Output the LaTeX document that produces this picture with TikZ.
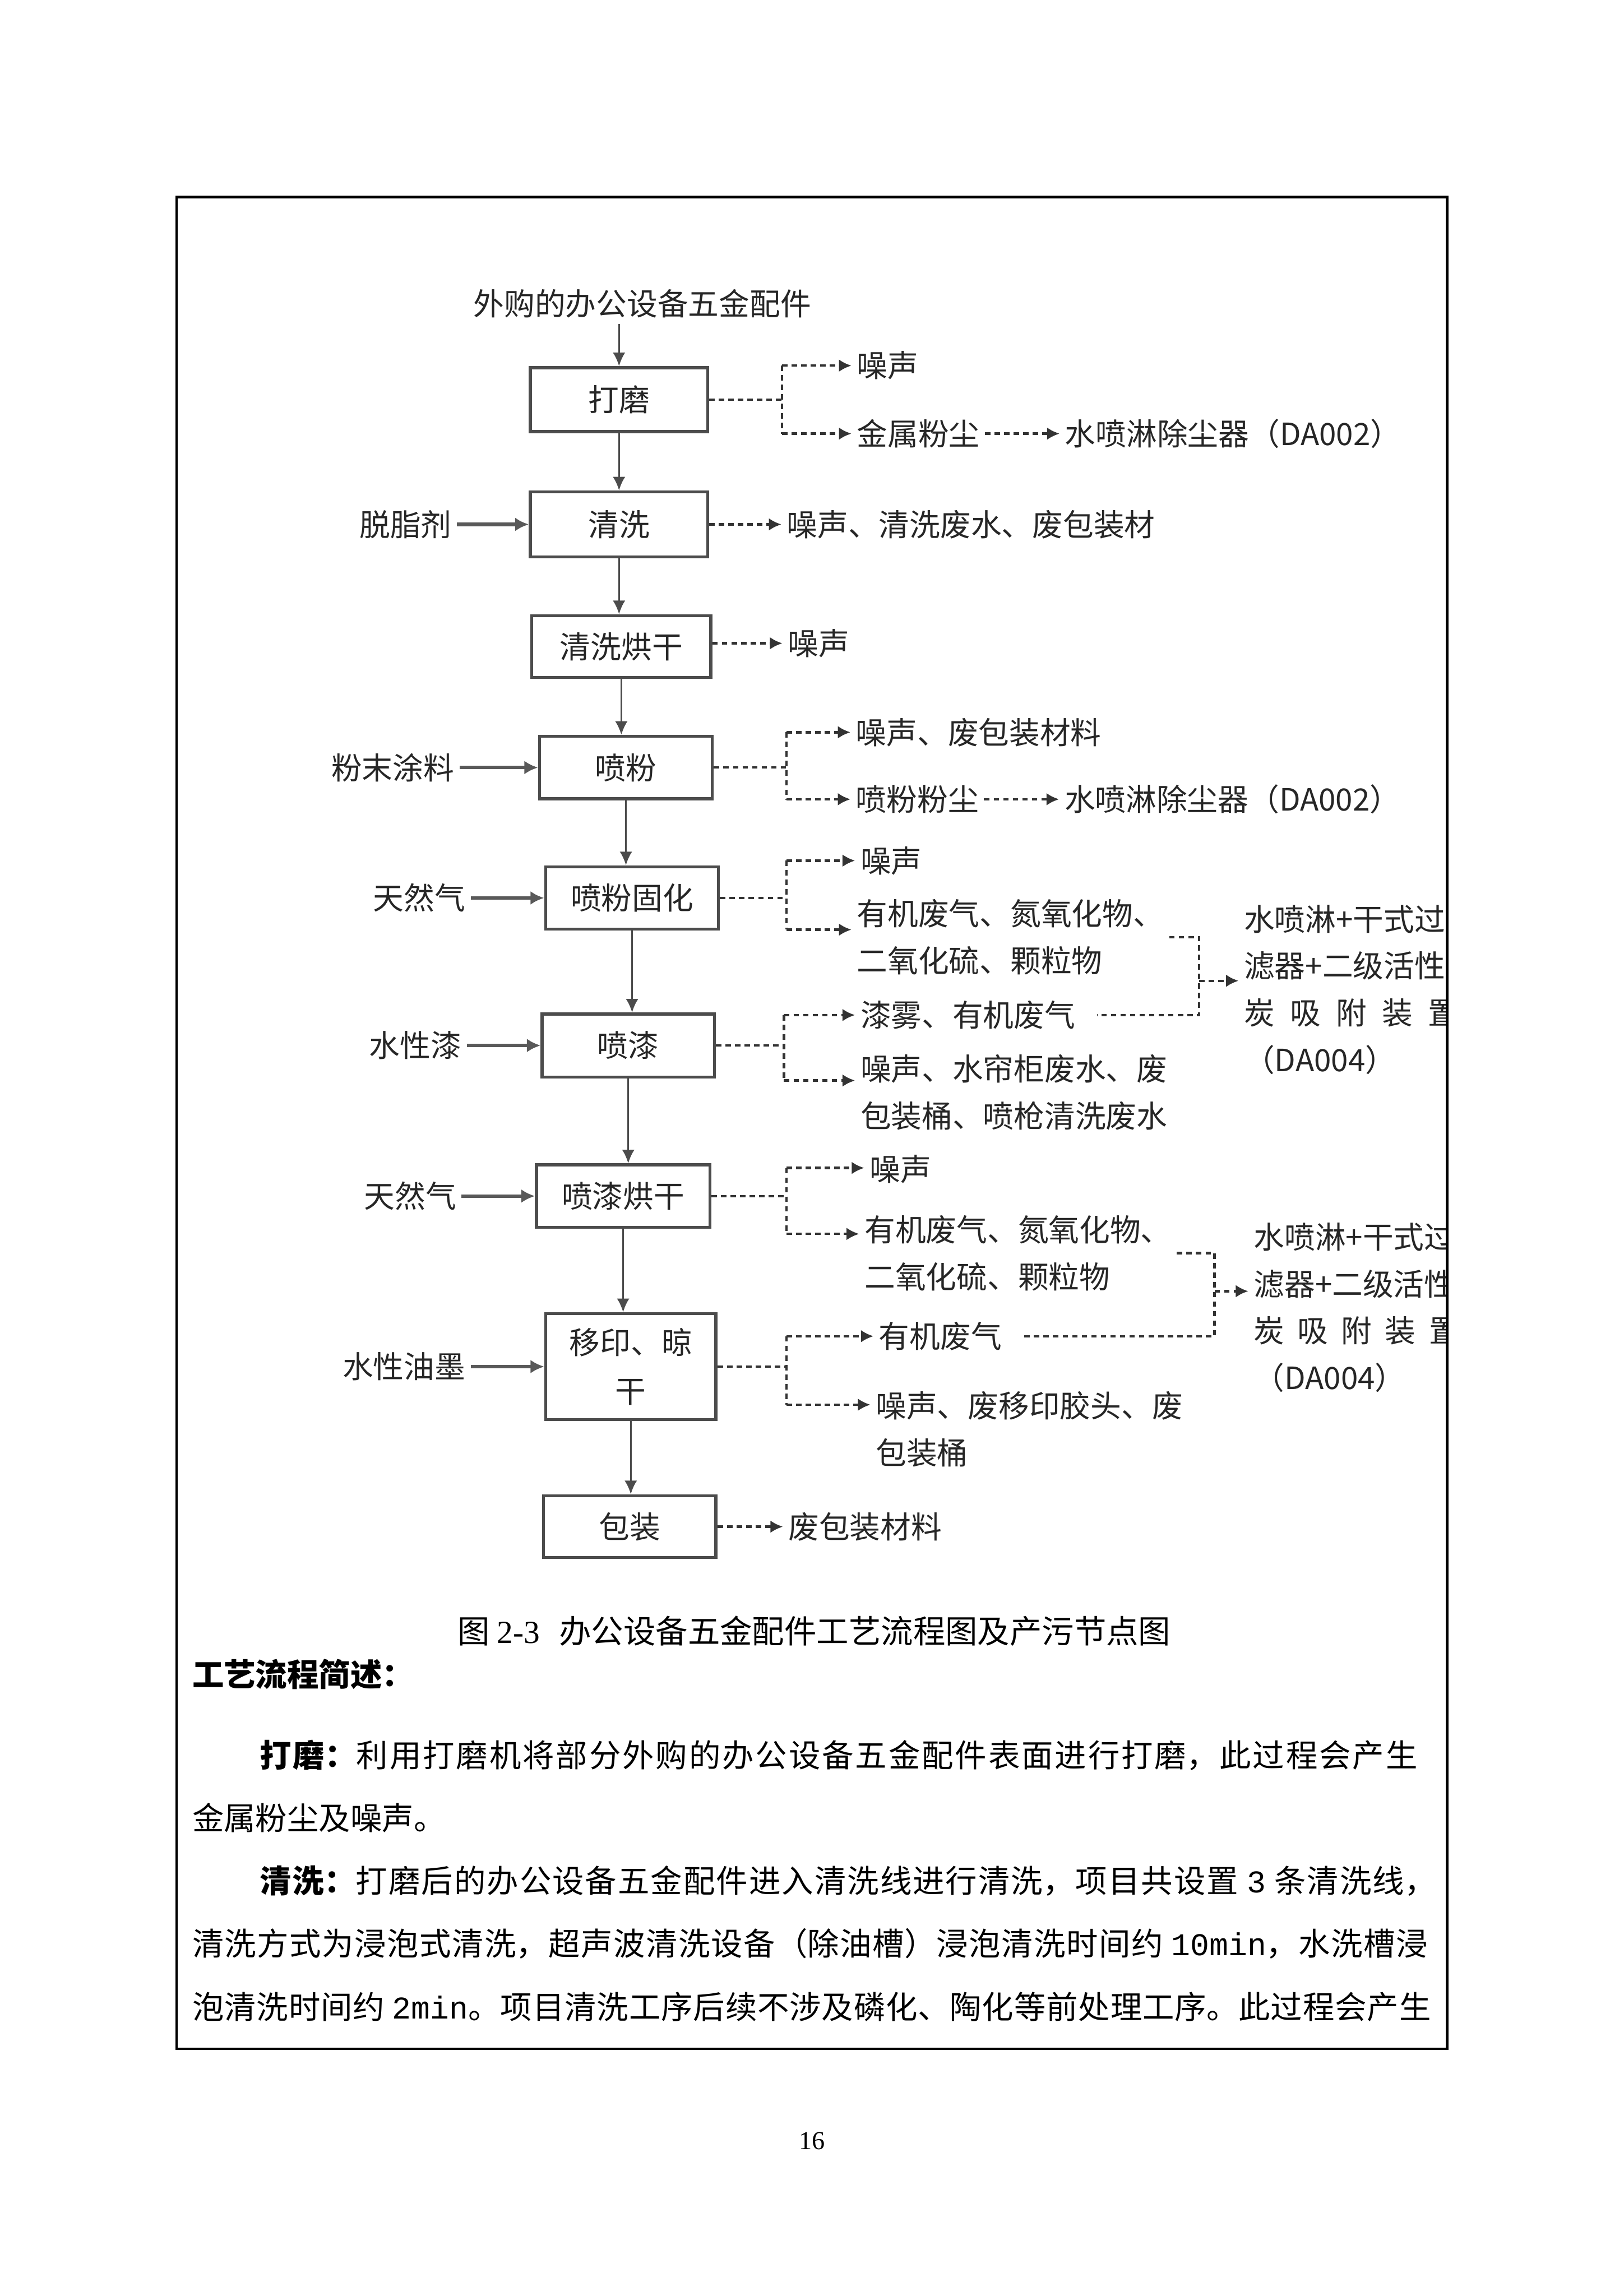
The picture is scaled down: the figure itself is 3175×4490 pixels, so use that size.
\documentclass[tikz,border=0pt]{standalone}
\usepackage{fontspec}
\setmainfont{Liberation Serif}
\newfontfamily\cjk{Noto Sans CJK SC}
\newfontfamily\monof{Liberation Mono}
\usetikzlibrary{arrows.meta}
\XeTeXlinebreaklocale "zh"
\XeTeXlinebreakskip=0pt plus 1pt
\newcommand\flowfs{\fontsize{11.25pt}{17.2pt}\selectfont}
\newcommand\bodyfs{\fontsize{11.6pt}{23pt}\selectfont}
\tikzset{
  proc/.style 2 args={draw=black!70, line width=1.1pt, fill=white, inner sep=0pt,
     minimum width={#1*0.1875pt}, minimum height={#2*0.1875pt},
     font=\cjk\flowfs, text=black!85, align=center},
  flbl/.style={inner sep=0pt, outer xsep=2pt, font=\cjk\flowfs, text=black!85, align=left, anchor=west},
  inlbl/.style={inner sep=0pt, outer xsep=2pt, font=\cjk\flowfs, text=black!85},
  mainarrow/.style={draw=black!70, line width=0.7pt, -{Latex[length=5pt,width=4.6pt]}},
  inarrow/.style={draw=black!65, line width=1.3pt, -{Latex[length=5pt,width=5pt]}},
  dline/.style={draw=black!80, line width=0.9pt, dash pattern=on 2pt off 1.5pt},
  darrow/.style={dline, -{Latex[length=4.6pt,width=4.6pt]}},
  bodytxt/.style={inner sep=0pt, anchor=west, font=\cjk\bodyfs, align=justify},
}
\begin{document}
\begin{tikzpicture}[x=0.1875pt,y=-0.1875pt]
\useasboundingbox (0,0) rectangle (3175,4490);
\fill[white] (0,0) rectangle (3175,4490);

% ---------- process boxes ----------
\node[inlbl] (src) at (1256,594) {外购的办公设备五金配件};
\node[proc={347}{125}] (da) at (1210.5,781.5) {打磨};
\node[proc={347}{127}] (qx) at (1210.5,1025.5) {清洗};
\node[proc={350}{121}] (qxhg) at (1215,1264.5) {清洗烘干};
\node[proc={338}{122}] (pf) at (1224,1501) {喷粉};
\node[proc={338}{122}] (pfgh) at (1236,1756) {喷粉固化};
\node[proc={337}{123}] (pq) at (1228.5,2044.5) {喷漆};
\node[proc={339}{122}] (pqhg) at (1218.5,2339) {喷漆烘干};
\node[proc={333}{207}, font=\cjk\fontsize{11.25pt}{18pt}\selectfont] (yy) at (1233.5,2672.5) {移印、晾\\干};
\node[proc={337}{121}] (bz) at (1231.5,2985.5) {包装};

\draw[mainarrow, shorten <=2pt] (src.south -| da.north) -- (da.north);
\foreach \a/\b in {da/qx, qx/qxhg, qxhg/pf, pf/pfgh, pfgh/pq, pq/pqhg, pqhg/yy, yy/bz}
  \draw[mainarrow] (\a.south) -- (\a.south |- \b.north);

% ---------- inputs ----------
\node[inlbl] (in1) at (793,1025.5) {脱脂剂};
\node[inlbl] (in2) at (768,1501) {粉末涂料};
\node[inlbl] (in3) at (820,1756) {天然气};
\node[inlbl] (in4) at (812,2044.5) {水性漆};
\node[inlbl] (in5) at (802,2339) {天然气};
\node[inlbl] (in6) at (790,2672.5) {水性油墨};
\draw[inarrow] (in1.east) -- (qx.west);
\draw[inarrow] (in2.east) -- (pf.west);
\draw[inarrow] (in3.east) -- (pfgh.west);
\draw[inarrow] (in4.east) -- (pq.west);
\draw[inarrow] (in5.east) -- (pqhg.west);
\draw[inarrow] (in6.east) -- (yy.west);

% ---------- branch 1 ----------
\coordinate (v1t) at (1529,715);
\coordinate (v1b) at (1529,848);
\node[flbl] (o1a) at (1665,715) {噪声};
\node[flbl] (o1b) at (1665,848) {金属粉尘};
\node[flbl] (o1c) at (2072,848) {水喷淋除尘器（DA002）};
\draw[dline] (da.east) -- (da.east -| v1t);
\draw[dline] (v1t) -- (v1b);
\draw[darrow] (v1t) -- (o1a.west);
\draw[darrow] (v1b) -- (o1b.west);
\draw[darrow] (o1b.east) -- (o1c.west);

% ---------- branch 2 ----------
\node[flbl] (o2) at (1528,1025.5) {噪声、清洗废水、废包装材};
\draw[darrow] (qx.east) -- (o2.west);

% ---------- branch 3 ----------
\node[flbl] (o3) at (1530,1258) {噪声};
\draw[darrow] (qxhg.east |- o3.west) -- (o3.west);

% ---------- branch 4 ----------
\coordinate (v4t) at (1538,1432);
\coordinate (v4b) at (1538,1563);
\node[flbl] (o4a) at (1663,1432) {噪声、废包装材料};
\node[flbl] (o4b) at (1663,1563) {喷粉粉尘};
\node[flbl] (o4c) at (2071,1563) {水喷淋除尘器（DA002）};
\draw[dline] (pf.east) -- (pf.east -| v4t);
\draw[dline] (v4t) -- (v4b);
\draw[darrow] (v4t) -- (o4a.west);
\draw[darrow] (v4b) -- (o4b.west);
\draw[darrow] (o4b.east) -- (o4c.west);

% ---------- branch 5 ----------
\coordinate (v5t) at (1538,1683);
\coordinate (v5b) at (1538,1818);
\node[flbl] (o5a) at (1672,1683) {噪声};
\node[flbl] (o5b) at (1665,1832.5) {有机废气、氮氧化物、\\二氧化硫、颗粒物};
\draw[dline] (pfgh.east) -- (pfgh.east -| v5t);
\draw[dline] (v5t) -- (v5b);
\draw[darrow] (v5t) -- (o5a.west);
\draw[darrow] (v5b) -- (v5b -| o5b.west);

% ---------- branch 6 ----------
\coordinate (v6t) at (1533,1985);
\coordinate (v6b) at (1533,2113);
\node[flbl] (o6a) at (1672,1985) {漆雾、有机废气};
\node[flbl] (o6b) at (1672,2136) {噪声、水帘柜废水、废\\包装桶、喷枪清洗废水};
\draw[dline] (pq.east) -- (pq.east -| v6t);
\draw[dline] (v6t) -- (v6b);
\draw[darrow] (v6t) -- (o6a.west);
\draw[darrow] (v6b) -- (v6b -| o6b.west);

% ---------- bracket 1 to DA004 ----------
\coordinate (k1) at (2345,1918);
\draw[dline] (o5b.east) -- (o5b.east -| k1) -- (k1 |- o6a.east) -- ([xshift=6pt]o6a.east);

% ---------- branch 7 ----------
\coordinate (v7t) at (1538,2284);
\coordinate (v7b) at (1538,2413);
\node[flbl] (o7a) at (1690,2286) {噪声};
\node[flbl] (o7b) at (1680,2450.5) {有机废气、氮氧化物、\\二氧化硫、颗粒物};
\draw[dline] (pqhg.east) -- (pqhg.east -| v7t);
\draw[dline] (v7t) -- (v7b);
\draw[darrow] (v7t) -- (v7t -| o7a.west);
\draw[darrow] (v7b) -- (v7b -| o7b.west);

% ---------- branch 8 ----------
\coordinate (v8t) at (1538,2613);
\coordinate (v8b) at (1538,2747);
\node[flbl] (o8a) at (1708,2613) {有机废气};
\node[flbl] (o8b) at (1702,2795) {噪声、废移印胶头、废\\包装桶};
\draw[dline] (yy.east) -- (yy.east -| v8t);
\draw[dline] (v8t) -- (v8b);
\draw[darrow] (v8t) -- (o8a.west);
\draw[darrow] (v8b) -- (v8b -| o8b.west);

% ---------- bracket 2 to DA004 ----------
\coordinate (k2) at (2375,2525);
\draw[dline] (o7b.east) -- (o7b.east -| k2) -- (k2 |- o8a.east) -- ([xshift=6pt]o8a.east);

% ---------- DA004 blocks (cut at the frame) ----------
\begin{scope}
\clip (0,0) rectangle (2828,4490);
\node[flbl] (da4a) at (2422,1935) {水喷淋+干式过\\滤器+二级活性\\\makebox[78.75pt]{炭\hfill 吸\hfill 附\hfill 装\hfill 置}\\（DA004）};
\node[flbl] (da4b) at (2441,2557) {水喷淋+干式过\\滤器+二级活性\\\makebox[75.5pt]{炭\hfill 吸\hfill 附\hfill 装\hfill 置}\\（DA004）};
\end{scope}
\draw[darrow] (k1) -- (k1 -| da4a.west);
\draw[darrow] (k2) -- (k2 -| da4b.west);

% ---------- branch 9 ----------
\node[flbl] (o9) at (1531,2985.5) {废包装材料};
\draw[darrow] (bz.east) -- (o9.west);

% ---------- caption and text ----------
\node[inner sep=0pt, font=\cjk\fontsize{11.8pt}{14pt}\selectfont] (cap) at (1592,3190) {图 {\rmfamily 2-3}\hspace{0.6em}办公设备五金配件工艺流程图及产污节点图};
\node[inner sep=0pt, anchor=west, font=\cjk\bodyfs\bfseries] (hd) at (375,3274) {工艺流程简述：};
\node[bodytxt, text width={2264*0.1875pt}] (p1) at (507,3432) {\noindent\parfillskip=0pt {\bfseries 打磨：}利用打磨机将部分外购的办公设备五金配件表面进行打磨，此过程会产生\par};
\node[inner sep=0pt, anchor=west, font=\cjk\bodyfs] (p2) at (375,3555) {金属粉尘及噪声。};
\node[bodytxt, text width={2300*0.1875pt}] (p3) at (507,3678) {\noindent\parfillskip=0pt {\bfseries 清洗：}打磨后的办公设备五金配件进入清洗线进行清洗，项目共设置 {\monof 3} 条清洗线，\par};
\node[bodytxt, text width={2416*0.1875pt}] (p4) at (375,3801) {\noindent\parfillskip=0pt 清洗方式为浸泡式清洗，超声波清洗设备（除油槽）浸泡清洗时间约 {\monof 10min}，水洗槽浸\par};
\node[bodytxt, text width={2422*0.1875pt}] (p5) at (375,3924) {\noindent\parfillskip=0pt 泡清洗时间约 {\monof 2min}。项目清洗工序后续不涉及磷化、陶化等前处理工序。此过程会产生\par};

% ---------- frame and page number ----------
\draw[line width=0.94pt] (345.5,385.5) rectangle (2829.5,4006.5);
\node[inner sep=0pt, font=\rmfamily\fontsize{9.5pt}{11pt}\selectfont] (pg) at (1588,4187) {16};
\end{tikzpicture}
\end{document}
